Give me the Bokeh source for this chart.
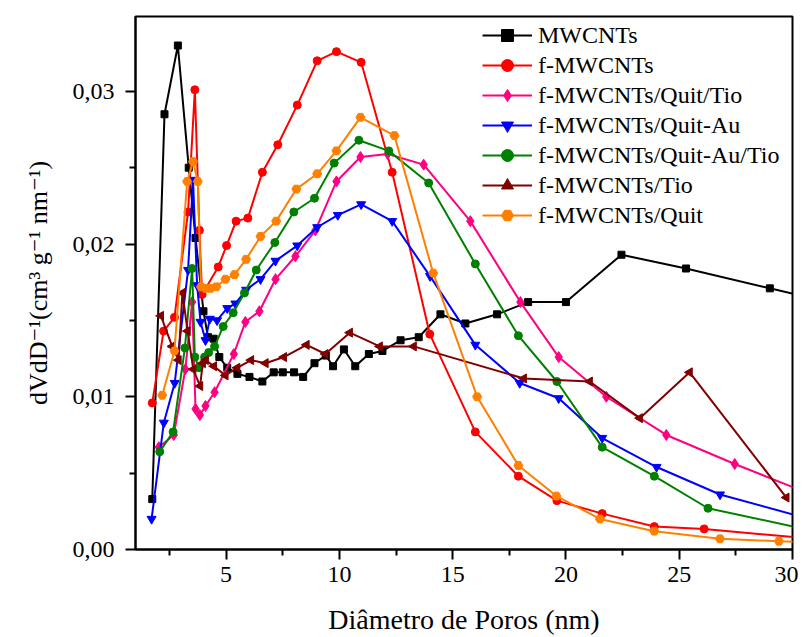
import math
from bokeh.plotting import figure
from bokeh.models import Range1d, FixedTicker, CustomJSTickFormatter, Legend, LegendItem
from bokeh.embed import file_html
from bokeh.resources import INLINE

FONT = "'Liberation Serif', 'Times New Roman', 'DejaVu Serif', serif"

# ---------------- data ----------------
x_ticks = [5, 10, 15, 20, 25, 30]
x_minor = [2.5, 7.5, 12.5, 17.5, 22.5, 27.5]
y_ticks = [0.0, 0.01, 0.02, 0.03]
y_minor = [0.005, 0.015, 0.025]

mw_x = [1.74, 2.28, 2.87, 3.35, 3.65, 4.00, 4.20, 4.45, 4.70, 5.05, 5.50, 6.03, 6.60, 7.10, 7.50, 8.00,
        8.40, 8.90, 9.40, 9.72, 10.20, 10.70, 11.30, 11.90, 12.70, 13.50, 14.46, 15.56, 16.96, 18.33,
        20.00, 22.45, 25.30, 29.00, 31.0]
mw_y = [0.0033, 0.0285, 0.0330, 0.0250, 0.0204, 0.0156, 0.0139, 0.0138, 0.0126, 0.0119, 0.0115, 0.0113,
        0.0110, 0.0116, 0.0116, 0.0116, 0.0113, 0.0122, 0.0127, 0.0120, 0.0131, 0.0120, 0.0128, 0.0130,
        0.0137, 0.0139, 0.0154, 0.0148, 0.0154, 0.0162, 0.0162, 0.0193, 0.0184, 0.0171, 0.0164]

f_x = [1.74, 2.24, 2.72, 3.32, 3.62, 3.82, 3.94, 4.65, 5.02, 5.44, 5.96, 6.60, 7.28, 8.14, 9.02, 9.87,
       10.96, 12.33, 13.99, 16.00, 17.90, 19.60, 21.60, 23.90, 26.10, 31.0]
f_y = [0.0096, 0.0143, 0.0152, 0.0221, 0.0301, 0.0209, 0.0167, 0.0185, 0.0199, 0.0215, 0.0217, 0.0247,
       0.0265, 0.0291, 0.0320, 0.0326, 0.0319, 0.0247, 0.0141, 0.0077, 0.0048, 0.0032, 0.00235, 0.0015,
       0.00135, 0.00068]

qt_x = [2.03, 2.69, 3.20, 3.50, 3.65, 3.84, 4.09, 4.49, 5.34, 5.85, 6.47, 7.18, 8.06, 8.94, 9.87, 10.93,
        12.13, 13.72, 15.78, 17.99, 19.68, 21.78, 24.43, 27.45, 31.0]
qt_y = [0.0067, 0.0075, 0.0118, 0.0162, 0.0092, 0.0088, 0.0094, 0.0103, 0.0128, 0.0149, 0.0156, 0.0177,
        0.0192, 0.0209, 0.0241, 0.0257, 0.0259, 0.0252, 0.0215, 0.0162, 0.0126, 0.0100, 0.0075, 0.0056,
        0.0035]

qa_x = [1.71, 2.25, 2.73, 3.32, 3.54, 3.72, 3.87, 4.09, 4.28, 4.60, 5.05, 5.41, 5.88, 6.52, 7.18, 8.14,
        9.02, 9.93, 10.96, 12.33, 14.00, 16.00, 17.96, 19.68, 21.60, 24.00, 26.80, 31.0]
qa_y = [0.0020, 0.0083, 0.0109, 0.0183, 0.0242, 0.0173, 0.0149, 0.0137, 0.0151, 0.0150, 0.0158, 0.0161,
        0.0170, 0.0177, 0.0189, 0.0199, 0.0211, 0.0219, 0.0226, 0.0215, 0.0179, 0.0134, 0.0109, 0.0099,
        0.0073, 0.0054, 0.0036, 0.0019]

qat_x = [2.07, 2.66, 3.18, 3.50, 3.62, 3.80, 4.05, 4.23, 4.49, 4.87, 5.31, 5.81, 6.33, 7.15, 7.99, 8.90,
         9.77, 10.86, 12.18, 13.94, 16.00, 17.90, 19.60, 21.60, 23.90, 26.27, 31.0]
qat_y = [0.0064, 0.0077, 0.0132, 0.0184, 0.0126, 0.0119, 0.0126, 0.0129, 0.0133, 0.0146, 0.0155, 0.0168,
         0.0183, 0.0201, 0.0221, 0.0230, 0.0253, 0.0268, 0.0261, 0.0240, 0.0187, 0.0140, 0.0110, 0.0067,
         0.0048, 0.0027, 0.0012]

t_x = [2.12, 2.62, 2.90, 3.07, 3.30, 3.55, 3.85, 3.97, 4.10, 4.46, 4.97, 5.49, 6.10, 6.74, 7.55, 8.55,
       9.38, 10.46, 11.78, 13.28, 18.14, 21.05, 23.26, 25.46, 29.73]
t_y = [0.0153, 0.0133, 0.0124, 0.0168, 0.0143, 0.0118, 0.0107, 0.0122, 0.0124, 0.0120, 0.0114, 0.0119,
       0.0124, 0.0122, 0.0126, 0.0134, 0.0128, 0.0142, 0.0133, 0.0133, 0.0112, 0.0110, 0.0086, 0.0116,
       0.0034]

q_x = [2.18, 2.72, 3.28, 3.54, 3.75, 3.89, 4.09, 4.31, 4.57, 4.97, 5.37, 5.88, 6.52, 7.21, 8.10, 9.02,
       9.87, 10.93, 12.43, 14.14, 16.08, 17.90, 19.58, 21.50, 23.90, 26.80, 29.40, 31.0]
q_y = [0.0101, 0.0130, 0.0241, 0.0254, 0.0241, 0.0172, 0.0171, 0.0171, 0.0172, 0.0177, 0.0180, 0.0190,
       0.0205, 0.0215, 0.0236, 0.0246, 0.0261, 0.0283, 0.0271, 0.0181, 0.0100, 0.0055, 0.0035, 0.0020,
       0.0012, 0.0007, 0.00054, 0.00044]

series_names = ["MWCNTs", "f-MWCNTs", "f-MWCNTs/Quit/Tio", "f-MWCNTs/Quit-Au",
                "f-MWCNTs/Quit-Au/Tio", "f-MWCNTs/Tio", "f-MWCNTs/Quit"]

# ---------------- styling ----------------
styles = [
    (mw_x, mw_y, "#000000", "square", 7, 0.0),
    (f_x, f_y, "#FF0000", "circle", 8, 0.0),
    (qt_x, qt_y, "#FF0080", "diamond", 11, 0.0),
    (qa_x, qa_y, "#0000FF", "inverted_triangle", 9, 0.0),
    (qat_x, qat_y, "#008000", "circle", 8, 0.0),
    (t_x, t_y, "#800000", "triangle", 9, math.pi / 2),
    (q_x, q_y, "#FF8000", "hex", 9, 0.0),
]

p = figure(width=798, height=637, output_backend="svg", toolbar_location=None,
           x_range=Range1d(1, 30), y_range=Range1d(0, 0.0349),
           min_border_left=135, min_border_right=6, min_border_top=16, min_border_bottom=87)
p.grid.visible = False
p.outline_line_color = "black"
p.outline_line_width = 2
p.background_fill_color = "white"
p.border_fill_color = "white"

items = []
for name, (xs, ys, color, marker, size, ang) in zip(series_names, styles):
    ln = p.line(xs, ys, line_color=color, line_width=2)
    sc = p.scatter(xs, ys, marker=marker, size=size, angle=ang, fill_color=color, line_color=color)
    items.append(LegendItem(label=name, renderers=[ln, sc]))

legend = Legend(items=items, location=(347, 319), orientation="vertical",
                label_text_font=FONT, label_text_font_size="24px", label_text_color="black",
                glyph_width=50, glyph_height=30, label_height=30, label_standoff=6,
                spacing=0, padding=0, margin=0,
                border_line_alpha=0, background_fill_alpha=0)
p.add_layout(legend)

p.xaxis.ticker = FixedTicker(ticks=x_ticks, minor_ticks=x_minor)
p.yaxis.ticker = FixedTicker(ticks=y_ticks, minor_ticks=y_minor)
p.yaxis.formatter = CustomJSTickFormatter(code="return tick.toFixed(2).replace('.', ',');")

for ax in (p.xaxis[0], p.yaxis[0]):
    ax.major_tick_out = 10
    ax.major_tick_in = 0
    ax.minor_tick_out = 6
    ax.minor_tick_in = 0
    ax.axis_line_width = 2
    ax.major_tick_line_width = 2
    ax.minor_tick_line_width = 2
    ax.major_label_text_font = FONT
    ax.major_label_text_font_size = "24px"
    ax.major_label_text_color = "black"
    ax.axis_label_text_font = FONT
    ax.axis_label_text_font_style = "normal"
    ax.axis_label_text_color = "black"

p.xaxis.axis_label = "Diâmetro de Poros (nm)"
p.xaxis.axis_label_text_font_size = "28px"
p.xaxis.major_label_standoff = 7
p.xaxis.axis_label_standoff = 19
p.yaxis.axis_label = "dVdD⁻¹(cm³ g⁻¹ nm⁻¹)"
p.yaxis.axis_label_text_font_size = "26px"
p.yaxis.major_label_standoff = 11
p.yaxis.axis_label_standoff = 17

open("out.html", "w").write(file_html(p, INLINE))
